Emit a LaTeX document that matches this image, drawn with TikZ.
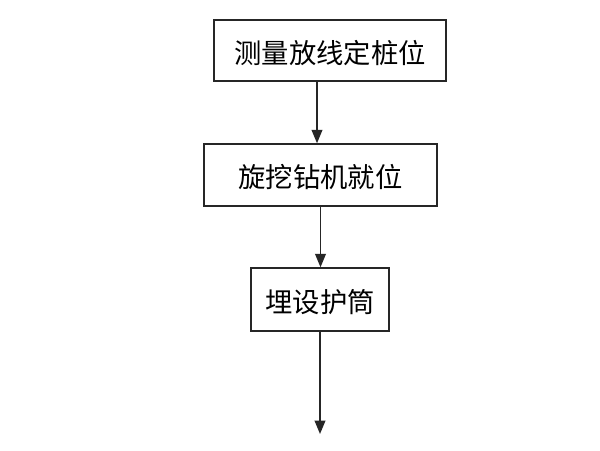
\documentclass[tikz,border=0pt]{standalone}
\usepackage{fontspec}
\newfontfamily\cjk{Noto Sans CJK SC}
\usetikzlibrary{arrows.meta,calc}
\tikzset{
  stepbox/.style={draw=black!85, line width=1.1pt, rectangle, inner sep=0pt,
    font=\cjk\fontsize{20.5}{24}\selectfont, text height=19pt, text depth=0pt},
  arr/.style={draw=black!85, line width=1.1pt, -{Triangle[width=8pt,length=10pt]}}
}
\begin{document}
\begin{tikzpicture}[x=0.75pt,y=-0.75pt]
\useasboundingbox[fill=white] (0,0) rectangle (600,450);
\node[stepbox, minimum width=232*0.75pt, minimum height=61*0.75pt] (b1) at (330,50.5) {测量放线定桩位};
\node[stepbox, minimum width=233*0.75pt, minimum height=62*0.75pt] (b2) at (320.5,175) {旋挖钻机就位};
\node[stepbox, minimum width=138*0.75pt, minimum height=63*0.75pt] (b3) at (320,299.5) {埋设护筒};
\coordinate (end) at (321,434);
\draw[arr] ($(b1.south)+(-13,0)$) -- ($(b2.north)+(-3.5,0)$);
\draw[arr] (b2.south) -- (b2.south |- b3.north);
\draw[arr] (b3.south) -- (b3.south |- end);
\end{tikzpicture}
\end{document}
